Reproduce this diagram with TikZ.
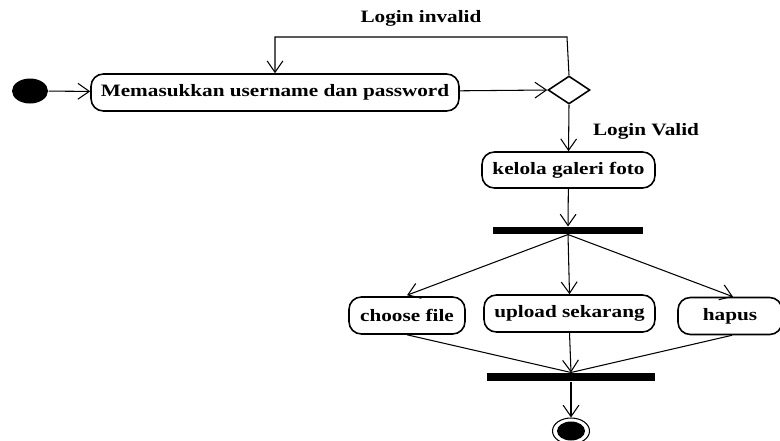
\documentclass[tikz,border=0pt]{standalone}
\usepackage{fontspec}
\setmainfont{Liberation Serif}[FakeStretch=1.22]
\usepackage{tikz}
\usetikzlibrary{shapes.geometric,arrows.meta,positioning,calc}

\begin{document}
\begin{tikzpicture}[x=0.02cm, y=-0.02cm,
    font=\fontsize{9.9}{11}\selectfont\bfseries,
    line width=0.6pt,
    act/.style={draw, line width=0.9pt, rounded corners=7pt, minimum height=0.74cm, inner sep=0pt},
    bar/.style={fill=black, inner sep=0pt},
    flow/.style={-{Straight Barb[length=6.5pt,width=9pt]}}]
  \useasboundingbox (0,0) rectangle (780,440);
  % Start and first activity
  \node[ellipse, fill=black, minimum width=0.72cm, minimum height=0.5cm, inner sep=0pt] (start) at (30,91) {};
  \node[act, minimum width=7.36cm] (login) at (275,92.5) {Memasukkan username dan password};
  % Decision
  \node[diamond, draw, line width=0.9pt, aspect=1.5, inner sep=0pt, minimum width=0.84cm, minimum height=0.56cm] (dec) at (569,90) {};
  \coordinate (loopR) at (567,37);
  \node (invalid) at (421,18) {Login invalid};
  \node (valid) at (646,131) {Login Valid};
  % Main activity and fork
  \node[act, minimum width=3.46cm, minimum height=0.72cm] (kelola) at (568.5,170) {kelola galeri foto};
  \node[bar, minimum width=3.0cm, minimum height=0.14cm] (fork) at (568,230.5) {};
  % Parallel activities
  \node[act, minimum width=2.32cm] (choose) at (407,315.5) {choose file};
  \node[act, minimum width=3.42cm] (upload) at (569.5,313.5) {\raisebox{2pt}{upload sekarang}};
  \node[act, minimum width=2.08cm] (hapus) at (730,316) {hapus};
  % Join and end
  \node[bar, minimum width=3.36cm, minimum height=0.16cm] (join) at (571,377) {};
  \node[ellipse, draw, fill=white, minimum width=0.74cm, minimum height=0.52cm, inner sep=0pt] (end) at (571,431) {};
  \fill (end.center) ellipse [x radius=14, y radius=9.5];
  % Connectors
  \draw[flow] (start) -- (login);
  \draw[flow] (login) -- (dec.west);
  \draw[flow] (dec.north) -- (loopR) -| (login.north);
  \draw[flow] (dec.south) -- (kelola.north);
  \draw[flow] (kelola) -- (fork.north);
  \draw[flow] (fork.south) -- ($(choose.north)+(0,-1)$);
  \draw[flow] (fork.south) -- (upload.north);
  \draw[flow] (fork.south) -- ($(hapus.north)+(3,0)$);
  \draw (choose.south) -- (join.north);
  \draw[flow] (upload.south) -- (join.north);
  \draw ($(hapus.south)+(2,0)$) -- (join.north);
  \draw[flow] (join.south) -- (end.north);
\end{tikzpicture}
\end{document}
